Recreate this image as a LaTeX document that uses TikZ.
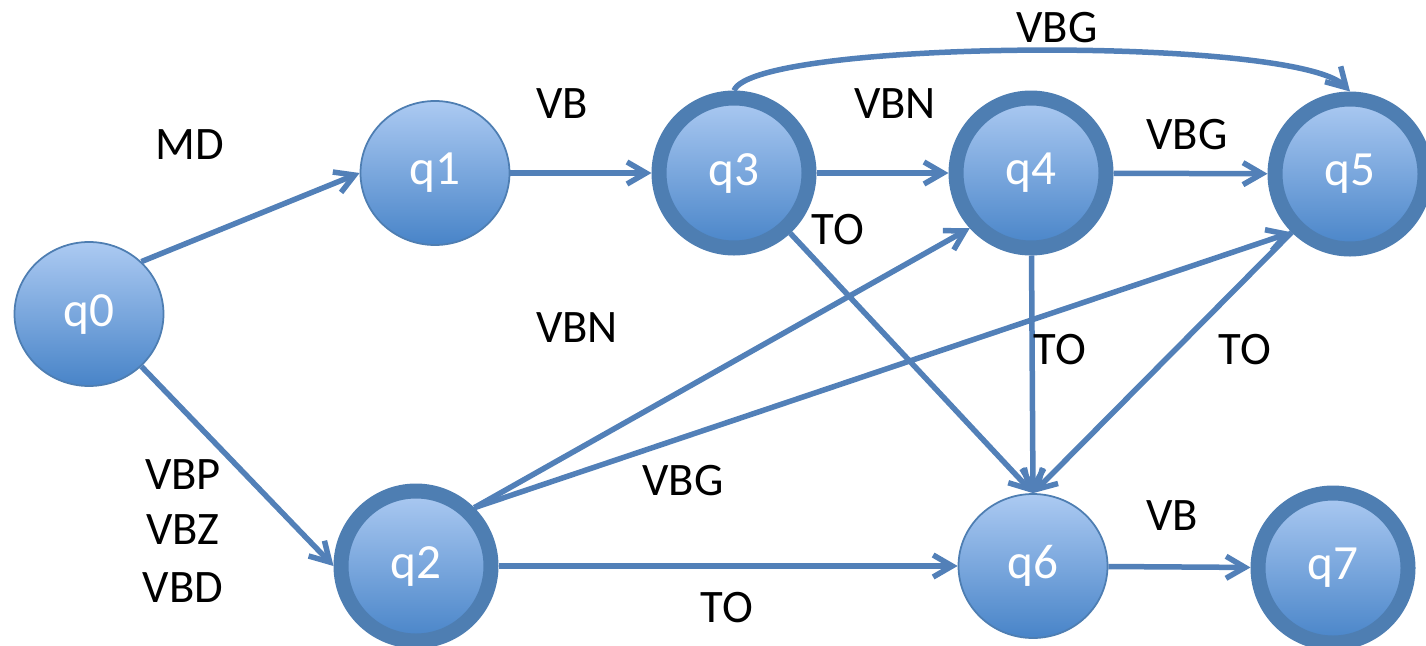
\documentclass[tikz,border=0pt]{standalone}
\usepackage{fontspec}
\setmainfont{Carlito}
\usetikzlibrary{arrows.meta,shapes.geometric}

\definecolor{fillTop}{RGB}{172,202,242}
\definecolor{fillBottom}{RGB}{72,132,200}
\definecolor{ringBlue}{RGB}{78,126,178}
\definecolor{lineBlue}{RGB}{82,128,184}

\begin{document}
\begin{tikzpicture}[
  state/.style={ellipse, minimum width=2.98cm, minimum height=2.88cm, inner sep=0pt,
    top color=fillTop, bottom color=fillBottom, draw=ringBlue, line width=1pt,
    text=white, font=\fontsize{28}{33}\selectfont},
  final/.style={state, minimum width=3.0cm, minimum height=3.0cm, line width=0.3cm},
  trans/.style={draw=lineBlue, line width=0.11cm,
    -{Straight Barb[length=0.38cm,width=0.44cm]}},
  lbl/.style={font=\fontsize{26.5}{31}\selectfont, inner sep=0pt}
]

\useasboundingbox (0,0) rectangle (28.52,-12.9);

\node[state] (q0) at (1.78,-6.28) {q0};
\node[state] (q1) at (8.70,-3.46) {q1};
\node[final] (q2) at (8.32,-11.32) {q2};
\node[final] (q3) at (14.68,-3.46) {q3};
\node[final] (q4) at (20.62,-3.46) {q4};
\node[final] (q5) at (27.0,-3.48) {q5};
\node[state] (q6) at (20.66,-11.32) {q6};
\node[final] (q7) at (26.66,-11.36) {q7};

\draw[trans] (q0.45) to (q1.west);
\draw[trans] (q0.-45) to (q2.west);
\draw[trans] (q1) to (q3);
\draw[trans] (q3) to (q4);
\draw[trans] (q4) to (q5);
\draw[trans] (q3.north)
  .. controls +(0.40,1.02) and +(-1.10,1.12) .. (q5.north);
\draw[trans] (q3) to (q6.north);
\draw[trans] (q4) to (q6.north);
\draw[trans] (q5.225) to (q6.north);
\draw[trans] (q2.45) to (q4.222);
\draw[trans] (q2.45) to (q5.225);
\draw[trans] (q2) to (q6);
\draw[trans] (q6) to (q7);

\node[lbl] (lMD) at (3.80,-2.90) {MD};
\node[lbl] (lVBa) at (11.24,-2.08) {VB};
\node[lbl] (lVBNa) at (17.90,-2.08) {VBN};
\node[lbl] (lVBGa) at (21.14,-0.56) {VBG};
\node[lbl] (lVBGb) at (23.74,-2.70) {VBG};
\node[lbl] (lTOa) at (16.76,-4.60) {TO};
\node[lbl] (lVBNb) at (11.54,-6.56) {VBN};
\node[lbl] (lTOb) at (21.20,-7.00) {TO};
\node[lbl] (lTOc) at (24.90,-7.00) {TO};
\node[lbl] (lVBGc) at (13.66,-9.62) {VBG};
\node[lbl] (lVBP) at (3.66,-9.50) {VBP};
\node[lbl] (lVBZ) at (3.66,-10.60) {VBZ};
\node[lbl] (lVBD) at (3.66,-11.76) {VBD};
\node[lbl] (lTOd) at (14.54,-12.16) {TO};
\node[lbl] (lVBb) at (23.44,-10.32) {VB};

\end{tikzpicture}
\end{document}
